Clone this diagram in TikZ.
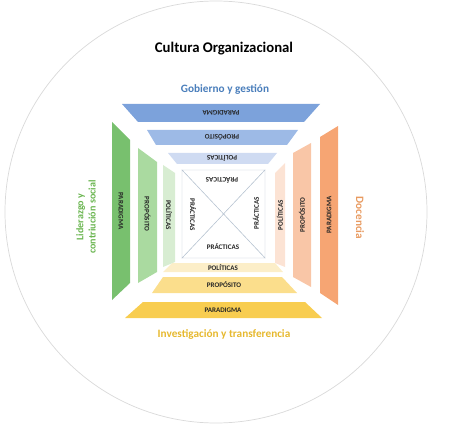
\documentclass[tikz,border=0pt]{standalone}
\usepackage{fontspec}
\setmainfont{Carlito}
\usepackage{xcolor}

\definecolor{bluePar}{HTML}{7CA2DB}
\definecolor{bluePro}{HTML}{9DBAE6}
\definecolor{bluePol}{HTML}{CFDBF2}
\definecolor{greenPar}{HTML}{78C06E}
\definecolor{greenPro}{HTML}{AADAA0}
\definecolor{greenPol}{HTML}{D8EDD2}
\definecolor{orangePar}{HTML}{F6A573}
\definecolor{orangePro}{HTML}{F9C6A7}
\definecolor{orangePol}{HTML}{FCE3D4}
\definecolor{yellowPar}{HTML}{F8CD50}
\definecolor{yellowPro}{HTML}{FBDE8C}
\definecolor{yellowPol}{HTML}{FCEEC8}
\definecolor{blueTxt}{HTML}{4A7EBB}
\definecolor{greenTxt}{HTML}{6AB550}
\definecolor{orangeTxt}{HTML}{E89A60}
\definecolor{yellowTxt}{HTML}{E6B82E}
\definecolor{edgeGray}{HTML}{B8C4D2}

\begin{document}
\begin{tikzpicture}[x=0.03cm,y=-0.03cm,
  ring/.style={draw=black!15, line width=0.6pt},
  lbl/.style={font=\bfseries\fontsize{6}{7}\selectfont, inner sep=0pt, text=black!85},
  side/.style={font=\bfseries\fontsize{9.6}{10.5}\selectfont, inner sep=0pt, align=center},
  tri/.style={draw=edgeGray, line width=0.4pt, fill=white}]
  \useasboundingbox (0,0) rectangle (449,426);

  \draw[ring] (216,212) circle (211);

  % gobierno y gestion
  \fill[bluePar] (122,104) -- (320,104) -- (304,122) -- (138,122) -- cycle;
  \fill[bluePro] (147,130) -- (298,130) -- (287,145) -- (156,145) -- cycle;
  \fill[bluePol] (168,153) -- (277,153) -- (268,164) -- (177,164) -- cycle;

  % investigacion y transferencia
  \fill[yellowPol] (172,263) -- (275,263) -- (283,272) -- (163,272) -- cycle;
  \fill[yellowPro] (163,277) -- (282,277) -- (297,293) -- (152,293) -- cycle;
  \fill[yellowPar] (143,302) -- (305,302) -- (322,318) -- (125,318) -- cycle;

  % liderazgo
  \fill[greenPar] (112,122) -- (130,140) -- (130,283) -- (112,300) -- cycle;
  \fill[greenPro] (138,148) -- (157,162) -- (157,272) -- (138,283) -- cycle;
  \fill[greenPol] (163,165) -- (175,173) -- (175,262) -- (163,267) -- cycle;

  % docencia
  \fill[orangePol] (275,173) -- (285,163) -- (285,267) -- (275,263) -- cycle;
  \fill[orangePro] (293,153) -- (311,143) -- (311,287) -- (293,277) -- cycle;
  \fill[orangePar] (320,137) -- (338,126) -- (338,305) -- (320,293) -- cycle;

  % practicas
  \coordinate (q1) at (182,170);
  \coordinate (q2) at (265,170);
  \coordinate (q3) at (265,258);
  \coordinate (q4) at (182,258);
  \coordinate (qc) at (223.5,214);
  \draw[tri] (q1) -- (q2) -- (qc) -- cycle;
  \draw[tri] (q2) -- (q3) -- (qc) -- cycle;
  \draw[tri] (q3) -- (q4) -- (qc) -- cycle;
  \draw[tri] (q4) -- (q1) -- (qc) -- cycle;

  \node[lbl, rotate=180] (pracT) at (222,180) {PRÁCTICAS};
  \node[lbl] (pracB) at (223,247) {PRÁCTICAS};
  \node[lbl, rotate=-90] (pracL) at (193,215) {PRÁCTICAS};
  \node[lbl, rotate=90] (pracR) at (256,213) {PRÁCTICAS};

  \node[lbl, rotate=180] (parT) at (221,113) {PARADIGMA};
  \node[lbl, rotate=180] (proT) at (222,137.5) {PROPÓSITO};
  \node[lbl, rotate=180] (polT) at (222,158.5) {POLÍTICAS};

  \node[lbl] (polB) at (223,268) {POLÍTICAS};
  \node[lbl] (proB) at (224,285) {PROPÓSITO};
  \node[lbl] (parB) at (223,310) {PARADIGMA};

  \node[lbl, rotate=-90] (parL) at (121,211) {PARADIGMA};
  \node[lbl, rotate=-90] (proL) at (147.5,214) {PROPÓSITO};
  \node[lbl, rotate=-90] (polL) at (169,215) {POLÍTICAS};

  \node[lbl, rotate=90] (polR) at (280,215) {POLÍTICAS};
  \node[lbl, rotate=90] (proR) at (302,215) {PROPÓSITO};
  \node[lbl, rotate=90] (parR) at (329,215) {PARADIGMA};

  \node[font=\bfseries\fontsize{12.6}{14}\selectfont, inner sep=0pt] (title) at (224,49) {Cultura Organizacional};
  \node[side, text=blueTxt] (gob) at (225,90) {Gobierno y gestión};
  \node[side, text=yellowTxt] (inv) at (224,334) {Investigación y transferencia};
  \node[side, text=greenTxt, rotate=90, font=\bfseries\fontsize{8.6}{10.5}\selectfont] (lid) at (86,217) {Liderazgo y\\contriución social};
  \node[side, text=orangeTxt, rotate=-90] (doc) at (360,218) {Docencia};
\end{tikzpicture}
\end{document}
